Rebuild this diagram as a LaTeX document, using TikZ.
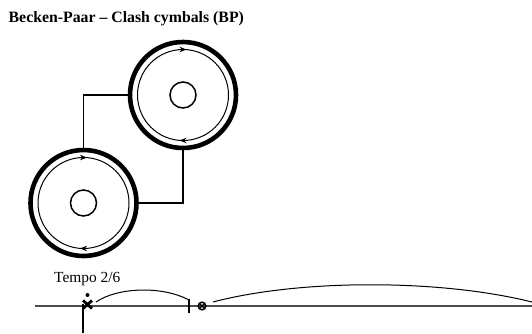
\documentclass[tikz,border=0pt]{standalone}
\usepackage{fontspec}
\setmainfont{Liberation Serif}
\usetikzlibrary{arrows.meta}
\tikzset{
  cymbal/.style={circle, draw, line width=4.6pt, minimum size=106pt, inner sep=0pt},
  ring/.style={line width=1pt},
  hub/.style={line width=1.5pt},
  conn/.style={line width=1.2pt},
  ringtip/.style={-{Stealth[length=7pt,width=5.5pt]}, line width=1pt},
  staffline/.style={line width=1.4pt, black!70},
  tie/.style={line width=1pt},
}
\begin{document}
\begin{tikzpicture}[x=1pt,y=-1pt]
\useasboundingbox (0,0) rectangle (532,333);
% title
\node[anchor=base west, inner sep=0pt] (title) at (8.5,22) {\fontsize{15.8}{18}\selectfont\bfseries Becken-Paar – Clash cymbals (BP)};
% cymbals
\node[cymbal] (up) at (183,95) {};
\node[cymbal] (lo) at (83.5,203) {};
\foreach \c in {up,lo}{
  \draw[ring] (\c.center) circle[radius=45.5];
  \draw[hub] (\c.center) circle[radius=13];
  \draw[ringtip] ([xshift=-3pt,yshift=45.5pt]\c.center) -- ([xshift=3.5pt,yshift=45.5pt]\c.center);
  \draw[ringtip] ([xshift=3pt,yshift=-45.5pt]\c.center) -- ([xshift=-3.5pt,yshift=-45.5pt]\c.center);
}
% connectors
\draw[conn] (up.west) -| (lo.north);
\draw[conn] (up.south) |- (lo.east);
% staff
\node[anchor=base west, inner sep=0pt] (tempo) at (54,282.5) {\fontsize{15.4}{18}\selectfont Tempo 2/6};
\coordinate (sL) at (35,306);
\coordinate (sR) at (532,306);
\draw[staffline] (sL) -- (sR);
% x note with dot
\coordinate (xn) at (87.5,304.5);
\draw[line width=2.8pt] ([shift={(-4.5,-4)}]xn) -- ([shift={(4.5,4)}]xn);
\draw[line width=2.8pt] ([shift={(-4.5,4)}]xn) -- ([shift={(4.5,-4)}]xn);
\fill ([shift={(0,-9.5)}]xn) circle[radius=2];
\coordinate (stemtop) at (83,304);
\coordinate (stembot) at (83,333);
\draw[line width=1.3pt] (stemtop) -- (stembot);
% bar line
\coordinate (barT) at (189,299);
\coordinate (barB) at (189,313);
\draw[line width=1.2pt] (barT) -- (barB);
% circled x
\coordinate (cx) at (202,306);
\draw[line width=1.5pt] (cx) circle[radius=3.8];
\draw[line width=1.2pt] ([shift={(-2.7,-2.7)}]cx) -- ([shift={(2.7,2.7)}]cx);
\draw[line width=1.2pt] ([shift={(-2.7,2.7)}]cx) -- ([shift={(2.7,-2.7)}]cx);
% ties
\coordinate (t1a) at (96,302);
\coordinate (t1b) at (188,299.5);
\draw[tie] (t1a) .. controls (118,287) and (162,286) .. (t1b);
\coordinate (t2a) at (213,302);
\coordinate (t2b) at (532,302);
\draw[tie] (t2a) .. controls (300,279) and (440,279) .. (t2b);
\end{tikzpicture}
\end{document}
